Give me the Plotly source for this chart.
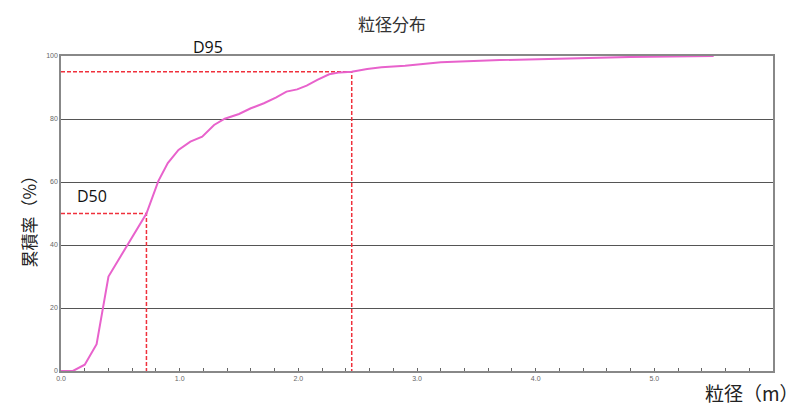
import plotly.graph_objects as go

# particle size (m) vs cumulative percentage
size_m = [0.0, 0.10, 0.20, 0.30, 0.40, 0.56, 0.72, 0.82, 0.90, 0.99, 1.09, 1.19,
          1.29, 1.38, 1.50, 1.60, 1.71, 1.81, 1.90, 1.99, 2.07, 2.16, 2.26, 2.35,
          2.45, 2.58, 2.70, 2.90, 3.20, 3.70, 4.30, 4.80, 5.50]
cum_pct = [0, 0, 2, 8.5, 30, 40, 50, 60.3, 66, 70.2, 72.8, 74.4,
           78.1, 80.1, 81.6, 83.4, 85, 86.8, 88.7, 89.4, 90.6, 92.4, 94.2, 94.8,
           95.0, 95.9, 96.4, 96.9, 98.0, 98.7, 99.2, 99.7, 100]

d_labels = ["D50", "D95"]
d_sizes = [0.72, 2.45]
d_pcts = [50, 95]

x_ticks = [0, 1, 2, 3, 4, 5]
x_ticktext = ["0.0", "1.0", "2.0", "3.0", "4.0", "5.0"]
y_ticks = [0, 20, 40, 60, 80, 100]

cjk = "Noto Sans CJK JP"
red = "#f0303c"

fig = go.Figure()

for s, p in zip(d_sizes, d_pcts):
    fig.add_trace(go.Scatter(
        x=[0, s, s], y=[p, p, 0], mode="lines",
        line=dict(color=red, width=1.5, dash="4px,2px"),
        showlegend=False, hoverinfo="skip",
    ))

fig.add_trace(go.Scatter(
    x=size_m, y=cum_pct, mode="lines",
    line=dict(color="#e862cc", width=2),
    showlegend=False,
))

# D labels (paper coords so they may sit above the plot area)
label_pos = {"D50": (0.043, 0.557), "D95": (0.206, 1.03)}
for lab in d_labels:
    lx, ly = label_pos[lab]
    fig.add_annotation(xref="paper", yref="paper", x=lx, y=ly, text=lab,
                       xanchor="center", yanchor="middle", showarrow=False,
                       font=dict(family="Open Sans", size=16, color="#111"))

fig.add_annotation(xref="paper", yref="paper", x=0.97, y=-0.067,
                   xanchor="center", yanchor="middle", text="粒径（m）",
                   showarrow=False, font=dict(family=cjk, size=19, color="#222"))
fig.add_annotation(xref="paper", yref="paper", x=-0.045, y=0.49,
                   xanchor="center", yanchor="middle", text="累積率（%）", textangle=-90,
                   showarrow=False, font=dict(family=cjk, size=17, color="#222"))

fig.update_layout(
    width=800, height=414,
    margin=dict(l=61, r=27, t=56, b=43),
    paper_bgcolor="white", plot_bgcolor="white",
    title=dict(text="粒径分布", x=0.49, xanchor="center", y=0.94, yanchor="middle",
               font=dict(family=cjk, size=17, color="#333")),
    xaxis=dict(
        range=[0, 6.0], tickvals=x_ticks, ticktext=x_ticktext,
        showgrid=False, zeroline=False,
        showline=True, linecolor="#888", linewidth=1.5, mirror=True,
        ticks="inside", ticklen=3, tickcolor="#666",
        minor=dict(dtick=0.2, ticks="inside", ticklen=3, tickcolor="#666"),
        tickfont=dict(family="Liberation Sans", size=7, color="#666"),
    ),
    yaxis=dict(
        range=[0, 100], tickvals=y_ticks,
        showgrid=True, gridcolor="#555", gridwidth=1.3, zeroline=False,
        showline=True, linecolor="#888", linewidth=1.5, mirror=True,
        ticks="", tickfont=dict(family="Liberation Sans", size=7, color="#666"),
    ),
)

fig.write_html("out.html", config={"displayModeBar": False},
               post_script="document.body.style.margin='0';")
